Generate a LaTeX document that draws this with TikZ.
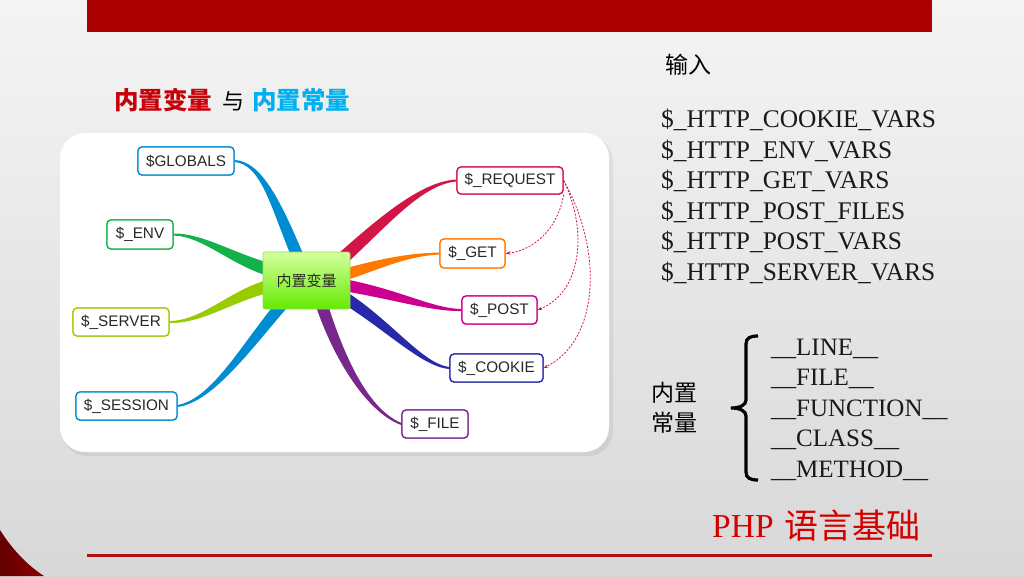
\documentclass[tikz,border=0pt]{standalone}
\usepackage{fontspec}
\setmainfont{Liberation Serif}
\newfontfamily\cjk{Noto Sans CJK SC}
\newfontfamily\arialf{Liberation Sans}
\usetikzlibrary{calc,arrows.meta}
\definecolor{barred}{RGB}{170,0,0}
\definecolor{linered}{RGB}{178,16,16}
\definecolor{ttlred}{RGB}{200,0,10}
\definecolor{ttlcyan}{RGB}{0,176,240}
\definecolor{phpred}{RGB}{212,0,0}
\definecolor{cblue}{RGB}{0,140,210}
\definecolor{cgreen}{RGB}{20,176,72}
\definecolor{cyg}{RGB}{153,204,0}
\definecolor{ccrim}{RGB}{210,20,70}
\definecolor{corange}{RGB}{255,120,0}
\definecolor{cmag}{RGB}{204,0,140}
\definecolor{cnavy}{RGB}{40,40,170}
\definecolor{cpurp}{RGB}{120,40,140}
\definecolor{txtgray}{RGB}{40,40,40}
\newcommand\mmbr[6]{%
  \fill[#1] ($(#2)!1pt!90:(#3)$) .. controls ($(#3)!1.6pt!-90:(#2)$) and ($(#4)!#6pt!90:(#5)$) .. ($(#5)!#6pt!-90:(#4)$)
   -- ($(#5)!#6pt!90:(#4)$) .. controls ($(#4)!#6pt!-90:(#5)$) and ($(#3)!1.6pt!90:(#2)$) .. ($(#2)!1pt!-90:(#3)$) -- cycle;}
\begin{document}
\begin{tikzpicture}[x=1pt,y=-1pt,
  leaf/.style={draw=#1, fill=white, rounded corners=4pt, line width=1.3pt,
    minimum height=28pt, inner sep=0pt, text=txtgray,
    font=\arialf\fontsize{15.3}{15.3}\selectfont},
  txt/.style={anchor=base west, inner sep=0pt},
  httpv/.style={txt, font=\fontsize{25.4}{25.4}\selectfont, text=black!90},
  konst/.style={txt, font=\fontsize{25}{25}\selectfont, text=black!90},
  dasharr/.style={draw=ccrim, line width=0.8pt, dash pattern=on 2pt off 1.5pt,
    -{Stealth[length=4.5pt,width=3.5pt]}}]
\useasboundingbox (0,0) rectangle (1024,576);
% background
\shade[top color={rgb,255:red,244;green,244;blue,244}, bottom color={rgb,255:red,216;green,216;blue,216}] (0,0) rectangle (1024,576);
\fill[barred] (87,0) rectangle (932,32);
\fill[linered] (87,554) rectangle (932,557);
\shade[left color={rgb,255:red,100;green,0;blue,0}, right color={rgb,255:red,140;green,0;blue,0}]
  (0,530) .. controls (12,549) and (27,565) .. (44,576) -- (0,576) -- cycle;
% panel
\fill[black, opacity=0.06, rounded corners=25pt] (62,136) rectangle (613,456);
\fill[white, rounded corners=25pt] (60,133) rectangle (609,452);
% title
\node[txt, font=\cjk\bfseries\fontsize{24.5}{24.5}\selectfont, text=ttlred] (t1) at (114,109) {内置变量};
\node[txt, font=\cjk\fontsize{22}{22}\selectfont, text=black] (t2) at (222,109) {与};
\node[txt, font=\cjk\bfseries\fontsize{24.5}{24.5}\selectfont, text=ttlcyan] (t3) at (252,109) {内置常量};
% leaves
\node[leaf=cblue, minimum width=96pt] (glob) at (186,161) {\$GLOBALS};
\node[leaf=cgreen, minimum width=66pt, minimum height=29pt] (env) at (140,234.5) {\$\_ENV};
\node[leaf=cyg, minimum width=96pt] (serv) at (121,322) {\$\_SERVER};
\node[leaf=cblue, minimum width=101pt] (sess) at (126.5,406) {\$\_SESSION};
\node[leaf=ccrim, minimum width=106pt, minimum height=27pt] (req) at (510,180.5) {\$\_REQUEST};
\node[leaf=corange, minimum width=65pt, minimum height=29pt] (get) at (472.5,253.5) {\$\_GET};
\node[leaf=cmag, minimum width=75pt] (post) at (499.5,310) {\$\_POST};
\node[leaf=cnavy, minimum width=93pt] (cook) at (496.5,368) {\$\_COOKIE};
\node[leaf=cpurp, minimum width=66pt] (file) at (435,424) {\$\_FILE};
% center anchor coordinates
\coordinate (c) at (306.5,280.5);
% branches
\mmbr{cblue}{glob.east}{262,163}{276,205}{300,262}{6}
\mmbr{cgreen}{env.east}{205,235}{235,262}{278,272}{6.5}
\mmbr{cyg}{serv.east}{205,322}{235,292}{278,284}{6.5}
\mmbr{cblue}{sess.east}{215,400}{250,340}{292,293}{6}
\mmbr{ccrim}{req.west}{420,183}{380,225}{332,268}{6.5}
\mmbr{corange}{get.west}{400,255}{370,268}{332,278}{6}
\mmbr{cmag}{post.west}{430,310}{395,293}{332,283}{6}
\mmbr{cnavy}{cook.west}{420,365}{385,320}{332,290}{6}
\mmbr{cpurp}{file.west}{365,410}{335,350}{318,293}{6}
% redraw leaves on top of branch ends
\node[leaf=cblue, minimum width=96pt] at (glob) {\$GLOBALS};
\node[leaf=cgreen, minimum width=66pt, minimum height=29pt] at (env) {\$\_ENV};
\node[leaf=cyg, minimum width=96pt] at (serv) {\$\_SERVER};
\node[leaf=cblue, minimum width=101pt] at (sess) {\$\_SESSION};
\node[leaf=ccrim, minimum width=106pt, minimum height=27pt] at (req) {\$\_REQUEST};
\node[leaf=corange, minimum width=65pt, minimum height=29pt] at (get) {\$\_GET};
\node[leaf=cmag, minimum width=75pt] at (post) {\$\_POST};
\node[leaf=cnavy, minimum width=93pt] at (cook) {\$\_COOKIE};
\node[leaf=cpurp, minimum width=66pt] at (file) {\$\_FILE};
% center node
\node[draw={rgb,255:red,150;green,220;blue,90}, line width=0.6pt, rounded corners=2pt,
  top color={rgb,255:red,214;green,255;blue,160}, bottom color={rgb,255:red,100;green,235;blue,0},
  minimum width=87pt, minimum height=57pt, inner sep=0pt, text=txtgray,
  font=\cjk\fontsize{15}{15}\selectfont] (center) at (c) {内置变量};
% dashed arrows
\draw[dasharr] (req.south east) .. controls (558,228) and (535,250) .. (get.east);
\draw[dasharr] (req.east) .. controls (588,230) and (582,292) .. (post.east);
\draw[dasharr] (req.east) .. controls (603,250) and (600,340) .. (cook.east);
% right side
\node[txt, font=\cjk\fontsize{23}{23}\selectfont, text=black] (in) at (665,73) {输入};
\node[httpv] (h1) at (661,127.5) {\$\_HTTP\_COOKIE\_VARS};
\node[httpv] (h2) at (661,158) {\$\_HTTP\_ENV\_VARS};
\node[httpv] (h3) at (661,188.5) {\$\_HTTP\_GET\_VARS};
\node[httpv] (h4) at (661,219) {\$\_HTTP\_POST\_FILES};
\node[httpv] (h5) at (661,249.5) {\$\_HTTP\_POST\_VARS};
\node[httpv] (h6) at (661,280) {\$\_HTTP\_SERVER\_VARS};
\node[txt, font=\cjk\fontsize{23}{23}\selectfont, text=black] (k1) at (651,401) {内置};
\node[txt, font=\cjk\fontsize{23}{23}\selectfont, text=black] (k2) at (651,431.5) {常量};
\draw[line width=3.2pt] (758,336) .. controls (750,336) and (746,338) .. (746,344) -- (746,400)
  .. controls (746,405) and (740,408) .. (731,408) .. controls (740,408) and (746,411) .. (746,416)
  -- (746,472) .. controls (746,478) and (750,480) .. (758,480);
\node[konst] (l1) at (771,355) {\_\_LINE\_\_};
\node[konst] (l2) at (771,385.5) {\_\_FILE\_\_};
\node[konst] (l3) at (771,416) {\_\_FUNCTION\_\_};
\node[konst] (l4) at (771,446.5) {\_\_CLASS\_\_};
\node[konst] (l5) at (771,477) {\_\_METHOD\_\_};
\node[txt, font=\fontsize{33.5}{33.5}\selectfont, text=phpred] (php) at (712,537) {PHP};
\node[txt, font=\cjk\fontsize{34}{34}\selectfont, text=phpred] (php2) at (784.5,538) {语言基础};
\end{tikzpicture}
\end{document}
